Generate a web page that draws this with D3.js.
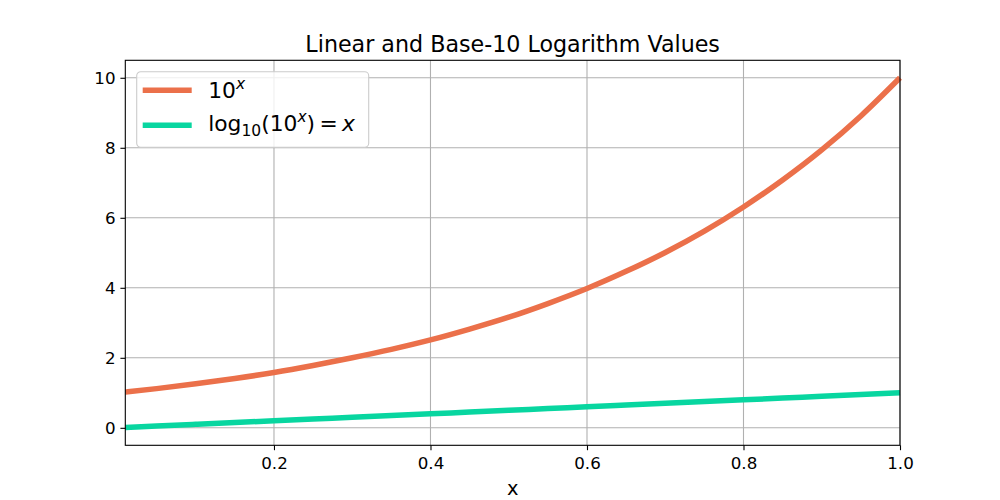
<!DOCTYPE html>
<html>
<head>
<meta charset="utf-8">
<script src="https://cdn.jsdelivr.net/npm/d3@7"></script>
<style>
  body { margin: 0; background: #fff; }
  svg text { font-family: "DejaVu Sans", sans-serif; }
</style>
</head>
<body>
<svg id="chart" width="1000" height="500"></svg>
<script>
// values
const xValues = [0.01, 0.05, 0.1, 0.15, 0.2, 0.25, 0.3, 0.35, 0.4, 0.45, 0.5,
                 0.55, 0.6, 0.65, 0.7, 0.75, 0.8, 0.85, 0.9, 0.95, 1.0];
const powValues = [1.02, 1.12, 1.26, 1.41, 1.58, 1.78, 2.0, 2.24, 2.51, 2.82, 3.16,
                   3.55, 3.98, 4.47, 5.01, 5.62, 6.31, 7.08, 7.94, 8.91, 10.0];
const logValues = [0.01, 0.05, 0.1, 0.15, 0.2, 0.25, 0.3, 0.35, 0.4, 0.45, 0.5,
                   0.55, 0.6, 0.65, 0.7, 0.75, 0.8, 0.85, 0.9, 0.95, 1.0];
const xTicks = [0.2, 0.4, 0.6, 0.8, 1.0];
const yTicks = [0, 2, 4, 6, 8, 10];
const seriesColors = ['#eb704a', '#08d6a0'];

const svg = d3.select('#chart');
const width = +svg.attr('width');
const height = +svg.attr('height');

const margin = {top: 60.3, right: 100, bottom: 54.7, left: 125.3};
const innerWidth = width - margin.left - margin.right;
const innerHeight = height - margin.top - margin.bottom;

const xScale = d3.scaleLinear()
    .domain([0.01, 1.0])
    .range([0, innerWidth]);

const yScale = d3.scaleLinear()
    .domain([-0.4995, 10.4995])
    .range([innerHeight, 0]);

const g = svg.append('g')
    .attr('transform', 'translate(' + margin.left + ',' + margin.top + ')');

// grid
g.append('g').selectAll('line')
    .data(xTicks)
    .enter().append('line')
    .attr('x1', d => xScale(d)).attr('x2', d => xScale(d))
    .attr('y1', 0).attr('y2', innerHeight)
    .attr('stroke', '#b0b0b0').attr('stroke-width', 1.1);

g.append('g').selectAll('line')
    .data(yTicks)
    .enter().append('line')
    .attr('x1', 0).attr('x2', innerWidth)
    .attr('y1', d => yScale(d)).attr('y2', d => yScale(d))
    .attr('stroke', '#b0b0b0').attr('stroke-width', 1.1);

// lines
const series = [powValues, logValues];
const line = d3.line()
    .x((d, i) => xScale(xValues[i]))
    .y(d => yScale(d))
    .curve(d3.curveMonotoneX);

g.append('g').selectAll('path')
    .data(series)
    .enter().append('path')
    .attr('d', d => line(d))
    .attr('fill', 'none')
    .attr('stroke', (d, i) => seriesColors[i])
    .attr('stroke-width', 5.5);

// axes
const xAxis = d3.axisBottom(xScale)
    .tickValues(xTicks)
    .tickFormat(d3.format('.1f'))
    .tickSizeOuter(0)
    .tickSize(4.9)
    .tickPadding(4.9);

const yAxis = d3.axisLeft(yScale)
    .tickValues(yTicks)
    .tickFormat(d3.format('d'))
    .tickSizeOuter(0)
    .tickSize(4.9)
    .tickPadding(4.9);

const xg = g.append('g')
    .attr('transform', 'translate(0,' + innerHeight + ')')
    .call(xAxis);
const yg = g.append('g').call(yAxis);

[xg, yg].forEach(a => {
    a.attr('font-size', null).attr('font-family', null);
    a.select('.domain').remove();
    a.selectAll('line').attr('stroke', '#000').attr('stroke-width', 1.1);
    a.selectAll('text')
        .attr('fill', '#000')
        .style('font-size', '16.7px');
});
xg.selectAll('text').attr('y', 23.5).attr('dy', null);
yg.selectAll('text').attr('dy', '0.35em');

// frame
g.append('rect')
    .attr('x', 0).attr('y', 0)
    .attr('width', innerWidth).attr('height', innerHeight)
    .attr('fill', 'none')
    .attr('stroke', '#000')
    .attr('stroke-width', 1.1);

// title and label
svg.append('text')
    .attr('x', margin.left + innerWidth / 2)
    .attr('y', 52.3)
    .attr('text-anchor', 'middle')
    .style('font-size', '22.2px')
    .text('Linear and Base-10 Logarithm Values');

svg.append('text')
    .attr('x', margin.left + innerWidth / 2)
    .attr('y', 494.5)
    .attr('text-anchor', 'middle')
    .style('font-size', '19.4px')
    .text('x');

// legend
const legend = svg.append('g').attr('transform', 'translate(136.7,71.7)');
legend.append('rect')
    .attr('width', 232).attr('height', 75.6)
    .attr('rx', 4).attr('ry', 4)
    .attr('fill', 'rgba(255,255,255,0.8)')
    .attr('stroke', '#cccccc')
    .attr('stroke-width', 1.1);

const legendRows = [0, 1];
legend.selectAll('line.handle')
    .data(legendRows)
    .enter().append('line')
    .attr('class', 'handle')
    .attr('x1', 6).attr('x2', 55)
    .attr('y1', d => 18.5 + d * 35).attr('y2', d => 18.5 + d * 35)
    .attr('stroke', d => seriesColors[d])
    .attr('stroke-width', 5.5);

const t1 = legend.append('text')
    .attr('x', 71.5).attr('y', 26.2)
    .style('font-size', '21.8px');
t1.append('tspan').text('10');
t1.append('tspan')
    .attr('dy', -9).style('font-size', '15.5px').style('font-style', 'oblique')
    .text('x');

const t2 = legend.append('text')
    .attr('x', 71.5).attr('y', 59.8)
    .style('font-size', '21.8px');
t2.append('tspan').text('log');
t2.append('tspan').attr('dy', 5).style('font-size', '15.5px').text('10');
t2.append('tspan').attr('dy', -5).text('(10');
t2.append('tspan').attr('dy', -9).style('font-size', '15.5px').style('font-style', 'oblique').text('x');
t2.append('tspan').attr('dy', 9).text(')\u2009=\u2009');
t2.append('tspan').style('font-style', 'oblique').text('x');
</script>
</body>
</html>
